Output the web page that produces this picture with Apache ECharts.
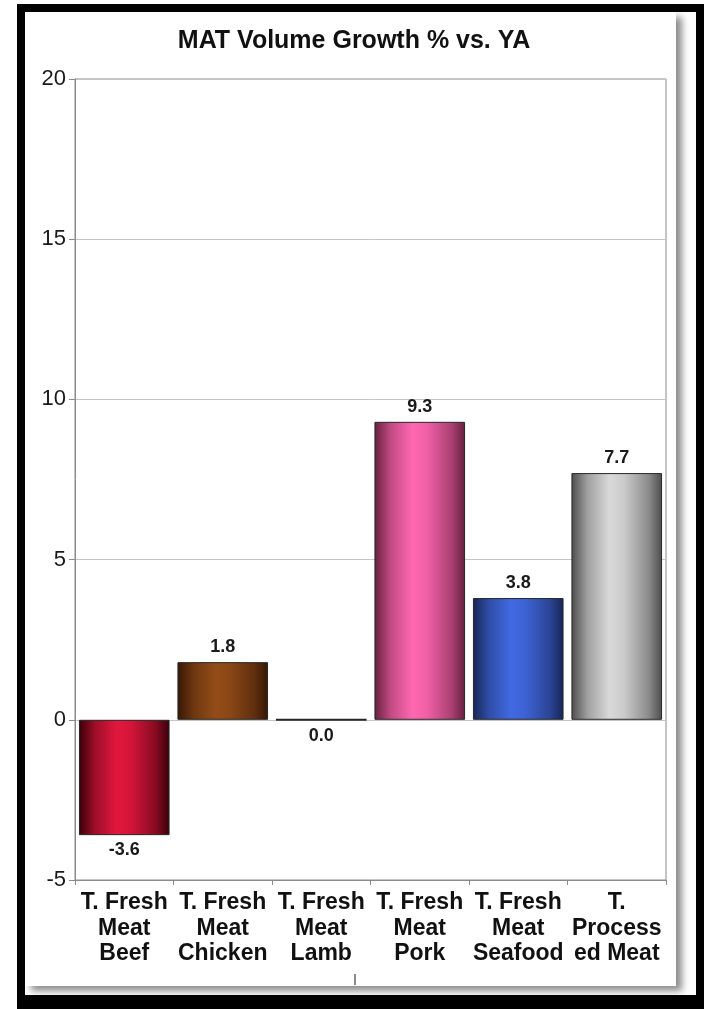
<!DOCTYPE html>
<html>
<head>
<meta charset="utf-8">
<script src="https://cdn.jsdelivr.net/npm/echarts@6/dist/echarts.min.js"></script>
<style>
  html, body { margin: 0; padding: 0; background: #ffffff; }
  #chart { width: 708px; height: 1009px; }
</style>
</head>
<body>
<div id="chart"></div>
<script>
// MAT volume growth by meat category
const titleText = 'MAT Volume Growth % vs. YA';
const categories = [
  'T. Fresh\nMeat\nBeef',
  'T. Fresh\nMeat\nChicken',
  'T. Fresh\nMeat\nLamb',
  'T. Fresh\nMeat\nPork',
  'T. Fresh\nMeat\nSeafood',
  'T.\nProcess\ned Meat'
];
const growth = [-3.6, 1.8, 0.0, 9.3, 3.8, 7.7];
const yTicks = { min: -5, max: 20, step: 5 };

// shaded bar fills: [edge colour, centre colour]
const barShades = [
  ['#3a0009', '#e3173e'],
  ['#361705', '#934c18'],
  ['#2a2a2a', '#6a6a6a'],
  ['#66203f', '#ff67b1'],
  ['#172656', '#4169e1'],
  ['#4d4d4d', '#d9d9d9']
];

function mix(a, b, t) {
  const pa = [1, 3, 5].map(i => parseInt(a.substr(i, 2), 16));
  const pb = [1, 3, 5].map(i => parseInt(b.substr(i, 2), 16));
  const c = pa.map((v, i) => Math.round(v + (pb[i] - v) * t));
  return 'rgb(' + c.join(',') + ')';
}

function shade(edge, centre) {
  return {
    type: 'linear', x: 0, y: 0, x2: 1, y2: 0,
    colorStops: [
      { offset: 0, color: edge },
      { offset: 0.18, color: mix(edge, centre, 0.6) },
      { offset: 0.42, color: centre },
      { offset: 0.58, color: mix(edge, centre, 0.9) },
      { offset: 0.85, color: mix(edge, centre, 0.45) },
      { offset: 1, color: edge }
    ]
  };
}

const chart = echarts.init(document.getElementById('chart'), null, { renderer: 'canvas' });

const barData = growth.map((v, i) => ({
  value: v,
  itemStyle: {
    color: shade(barShades[i][0], barShades[i][1]),
    // a zero-height bar shows only its outline, drawn a little heavier
    borderWidth: v === 0 ? 2 : 1
  },
  label: { position: v > 0 ? 'top' : 'bottom' }
}));

chart.setOption({
  animation: false,
  backgroundColor: '#ffffff',
  textStyle: { fontFamily: '"Liberation Sans", Arial, sans-serif' },
  graphic: [
    // black outer frame
    { type: 'rect', z: -30, silent: true,
      shape: { x: 17, y: 4, width: 687, height: 1020 },
      style: { fill: '#000000' } },
    { type: 'rect', z: -29, silent: true,
      shape: { x: 25, y: 12, width: 671, height: 983 },
      style: { fill: '#ffffff' } },
    // inner card with soft drop shadow
    { type: 'rect', z: -28, silent: true,
      shape: { x: 25, y: 12, width: 651, height: 974 },
      style: { fill: '#ffffff', shadowColor: 'rgba(0,0,0,0.45)', shadowBlur: 7, shadowOffsetX: 6, shadowOffsetY: 5 } },
    { type: 'rect', z: -27, silent: true,
      shape: { x: 25, y: 12, width: 651, height: 974 },
      style: { fill: '#ffffff' } },
    // small stray mark below the labels
    { type: 'rect', z: 5, silent: true,
      shape: { x: 354, y: 974, width: 2, height: 11 },
      style: { fill: '#8a8a8a' } }
  ],
  title: {
    text: titleText,
    left: 'center',
    top: 24,
    textStyle: { fontSize: 25, fontWeight: 'bold', color: '#111111', fontFamily: '"Liberation Sans", Arial, sans-serif' }
  },
  grid: {
    left: 75, right: 42, top: 79, bottom: 129,
    show: true, borderColor: '#8a8a8a', borderWidth: 1, backgroundColor: 'transparent'
  },
  xAxis: {
    type: 'category',
    data: categories,
    axisLine: { onZero: false, lineStyle: { color: '#8a8a8a', width: 1 } },
    axisTick: { show: true, length: 5, lineStyle: { color: '#8a8a8a' } },
    axisLabel: {
      interval: 0, margin: 10,
      fontSize: 23, fontWeight: 'bold', lineHeight: 25.5, color: '#111111',
      fontFamily: '"Liberation Sans", Arial, sans-serif'
    }
  },
  yAxis: {
    type: 'value',
    min: yTicks.min, max: yTicks.max, interval: yTicks.step,
    axisLine: { show: true, lineStyle: { color: '#8a8a8a', width: 1 } },
    axisTick: { show: true, length: 6, lineStyle: { color: '#8a8a8a' } },
    axisLabel: { fontSize: 22, color: '#1a1a1a', margin: 9, fontFamily: '"Liberation Sans", Arial, sans-serif' },
    splitLine: { show: true, lineStyle: { color: '#c4c4c4', width: 1 } }
  },
  series: [{
    type: 'bar',
    data: barData,
    barCategoryGap: '8%',
    itemStyle: { borderColor: '#262626' },
    label: {
      show: true,
      distance: 6,
      fontSize: 18, fontWeight: 'bold', color: '#1a1a1a',
      fontFamily: '"Liberation Sans", Arial, sans-serif',
      formatter: p => p.value.toFixed(1)
    }
  }]
});
</script>
</body>
</html>
